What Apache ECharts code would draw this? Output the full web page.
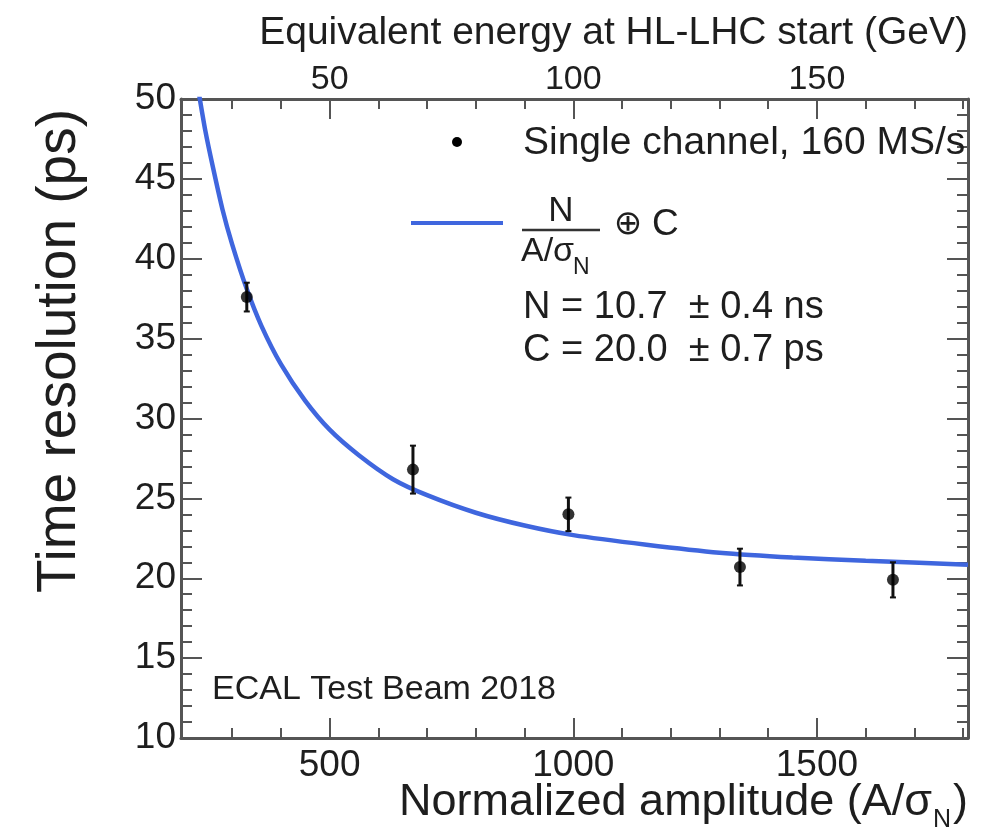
<!DOCTYPE html>
<html><head><meta charset="utf-8">
<script src="https://cdn.jsdelivr.net/npm/echarts@6/dist/echarts.min.js"></script>
<style>html,body{margin:0;padding:0;background:#fff}#c{width:999px;height:833px}</style>
</head><body><div id="c"></div>
<script>
// ---- data ----
const amplitude = [330, 671, 990, 1342, 1656];
const resolution = [37.6, 26.8, 24.0, 20.7, 19.9];
const resolutionErr = [0.9, 1.5, 1.05, 1.15, 1.1];
const fitAmplitude = [232, 245, 260, 280, 300, 330, 360, 400, 450, 500, 560, 630, 700, 800, 900, 1000, 1150, 1300, 1450, 1600, 1810];
const fitResolution = [50.3, 48.0, 45.8, 43.1, 40.9, 38.1, 35.8, 33.4, 31.1, 29.3, 27.7, 26.2, 25.2, 24.1, 23.3, 22.7, 22.1, 21.6, 21.3, 21.1, 20.85];
const xMajorTicks = [500, 1000, 1500];
const xMinorTicks = [300, 400, 600, 700, 800, 900, 1100, 1200, 1300, 1400, 1600, 1700, 1800];
const energyMajorTicks = [50, 100, 150];
const energyMinorTicks = [30, 40, 60, 70, 80, 90, 110, 120, 130, 140, 160, 170, 180];

const FONT = '"Liberation Sans", Arial, Helvetica, sans-serif';
const TXT = '#1e1e1e';
const AX = '#555';

const chart = echarts.init(document.getElementById('c'), null, {renderer: 'canvas'});

function xAxisBase(pos, min, max) {
  return {
    type: 'value', position: pos, min: min, max: max,
    splitLine: {show: false},
    axisLine: {show: false, onZero: false}
  };
}
const plain = v => String(v);

function txt(x, y, text, size, align, valign, extra, family) {
  return Object.assign({
    type: 'text', x: x, y: y, z: 100,
    style: {
      text: text, fontSize: size, fontFamily: family || FONT, fill: TXT,
      align: align, textAlign: align, verticalAlign: valign, textVerticalAlign: valign
    }
  }, extra || {});
}

const option = {
  animation: false,
  backgroundColor: '#fff',
  grid: {left: 181, top: 99, right: 31, bottom: 95, containLabel: false, outerBoundsMode: 'none'},
  xAxis: [
    Object.assign(xAxisBase('bottom', 195, 1810), {
      axisLine: {show: true, onZero: false, lineStyle: {color: AX, width: 3}},
      axisTick: {show: true, inside: true, length: 20, customValues: xMajorTicks, lineStyle: {color: AX, width: 2}},
      axisLabel: {show: true, customValues: xMajorTicks, formatter: plain, fontSize: 37, fontFamily: FONT, color: TXT, margin: 9}
    }),
    Object.assign(xAxisBase('bottom', 195, 1810), {
      axisTick: {show: true, inside: true, length: 10, customValues: xMinorTicks, lineStyle: {color: AX, width: 2}},
      axisLabel: {show: false}
    }),
    Object.assign(xAxisBase('top', 19.5, 181), {
      axisLine: {show: true, onZero: false, lineStyle: {color: AX, width: 3}},
      axisTick: {show: true, inside: true, length: 20, customValues: energyMajorTicks, lineStyle: {color: AX, width: 2}},
      axisLabel: {show: true, customValues: energyMajorTicks, formatter: plain, fontSize: 34, fontFamily: FONT, color: TXT, margin: 2}
    }),
    Object.assign(xAxisBase('top', 19.5, 181), {
      axisTick: {show: true, inside: true, length: 10, customValues: energyMinorTicks, lineStyle: {color: AX, width: 2}},
      axisLabel: {show: false}
    })
  ],
  yAxis: [
    {
      type: 'value', position: 'left', min: 10, max: 50, interval: 5,
      splitLine: {show: false},
      axisLine: {show: true, onZero: false, lineStyle: {color: AX, width: 3}},
      axisTick: {show: true, inside: true, length: 21, lineStyle: {color: AX, width: 2}},
      minorTick: {show: true, splitNumber: 5, length: 11, lineStyle: {color: AX, width: 2}},
      axisLabel: {fontSize: 37, fontFamily: FONT, color: TXT, margin: 5}
    },
    {
      type: 'value', position: 'right', min: 10, max: 50, interval: 5,
      splitLine: {show: false},
      axisLine: {show: true, onZero: false, lineStyle: {color: AX, width: 3}},
      axisTick: {show: true, inside: true, length: 21, lineStyle: {color: AX, width: 2}},
      minorTick: {show: true, splitNumber: 5, length: 11, lineStyle: {color: AX, width: 2}},
      axisLabel: {show: false}
    }
  ],
  series: [
    {
      name: 'fit', type: 'line', xAxisIndex: 0, yAxisIndex: 0,
      data: fitAmplitude.map((a, i) => [a, fitResolution[i]]),
      showSymbol: false, smooth: 0.25, clip: true,
      lineStyle: {color: '#3f66de', width: 4.5}, z: 2
    },
    {
      name: 'errors', type: 'custom', xAxisIndex: 0, yAxisIndex: 0,
      data: amplitude.map((a, i) => [a, resolution[i], resolutionErr[i]]),
      encode: {x: 0, y: 1},
      renderItem: function (params, api) {
        const x = api.value(0), y = api.value(1), e = api.value(2);
        const top = api.coord([x, y + e]);
        const bot = api.coord([x, y - e]);
        const st = {stroke: '#111', lineWidth: 3};
        return {type: 'group', children: [
          {type: 'line', shape: {x1: top[0], y1: top[1], x2: bot[0], y2: bot[1]}, style: st},
          {type: 'line', shape: {x1: top[0] - 3, y1: top[1], x2: top[0] + 3, y2: top[1]}, style: {stroke: '#111', lineWidth: 2}},
          {type: 'line', shape: {x1: bot[0] - 3, y1: bot[1], x2: bot[0] + 3, y2: bot[1]}, style: {stroke: '#111', lineWidth: 2}}
        ]};
      },
      z: 3
    },
    {
      name: 'Single channel, 160 MS/s', type: 'scatter', xAxisIndex: 0, yAxisIndex: 0,
      data: amplitude.map((a, i) => [a, resolution[i]]),
      symbol: 'circle', symbolSize: 12, itemStyle: {color: '#000'}, z: 4
    }
  ],
  graphic: [
    txt(968, 33, 'Equivalent energy at HL-LHC start (GeV)', 39, 'right', 'middle'),
    txt(60, 351, 'Time resolution (ps)', 55, 'center', 'middle', {rotation: Math.PI / 2}),
    txt(932, 803, 'Normalized amplitude (A/σ', 45, 'right', 'middle'),
    txt(933, 820, 'N', 25, 'left', 'middle'),
    txt(968, 803, ')', 45, 'right', 'middle'),
    txt(212, 690, 'ECAL Test Beam 2018', 34, 'left', 'middle'),
    // legend
    {type: 'circle', shape: {cx: 457, cy: 142, r: 5}, style: {fill: '#000'}, z: 100},
    txt(523, 143, 'Single channel, 160 MS/s', 39, 'left', 'middle'),
    {type: 'line', shape: {x1: 411, y1: 223, x2: 503, y2: 223}, style: {stroke: '#3f66de', lineWidth: 4}, z: 100},
    txt(561, 211, 'N', 35, 'center', 'middle'),
    {type: 'line', shape: {x1: 522, y1: 230, x2: 600, y2: 230}, style: {stroke: '#333', lineWidth: 2.5}, z: 100},
    txt(521, 252, 'A/σ', 34, 'left', 'middle'),
    txt(573, 268, 'N', 23, 'left', 'middle'),
    txt(628, 225, '⊕', 34, 'center', 'middle', null, '"DejaVu Sans", sans-serif'),
    txt(652, 225, 'C', 37, 'left', 'middle'),
    txt(523, 308, 'N = 10.7  ± 0.4 ns', 38, 'left', 'middle'),
    txt(523, 351, 'C = 20.0  ± 0.7 ps', 38, 'left', 'middle')
  ]
};
chart.setOption(option);
</script>
</body></html>
